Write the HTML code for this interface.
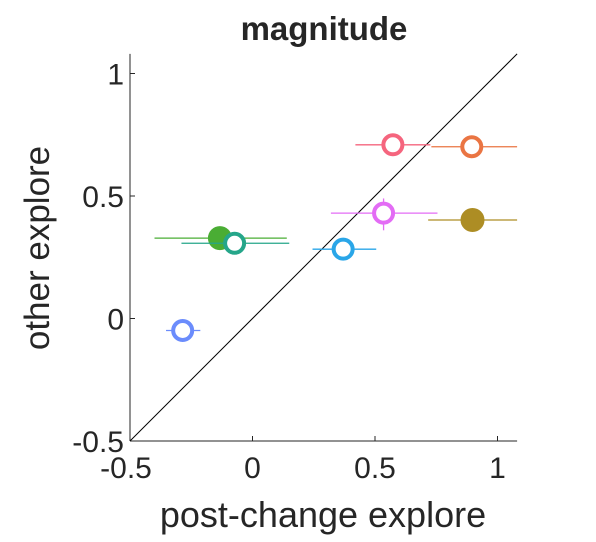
<!DOCTYPE html>
<html><head><meta charset="utf-8"><style>
body{margin:0;background:#fff;}
svg text{font-family:"Liberation Sans",Arial,sans-serif;fill:#262626;}
</style></head><body>
<svg id="chart" width="596" height="537">
<text x="324" y="40" font-size="33" font-weight="bold" text-anchor="middle" fill="#000">magnitude</text>
<text x="323" y="527" font-size="36" text-anchor="middle">post-change explore</text>
<text transform="translate(49,248) rotate(-90)" font-size="35" text-anchor="middle">other explore</text>
<g id="axes"></g>
<g id="marks"></g>
</svg>
<script>
const labels=["pink","orange","magenta","olive","sky","green","teal","periwinkle"];
const xVals=[0.573,0.895,0.535,0.898,0.37,-0.133,-0.073,-0.285];
const yVals=[0.709,0.701,0.43,0.402,0.283,0.328,0.307,-0.049];
const xLo=[0.42,0.73,0.32,0.717,0.245,-0.40,-0.29,-0.353];
const xHi=[0.726,1.08,0.755,1.08,0.505,0.14,0.15,-0.213];
const yLo=[0.68,0.67,0.36,0.36,0.245,0.29,0.27,-0.08];
const yHi=[0.74,0.73,0.49,0.44,0.32,0.37,0.345,-0.02];
const colors=["#f5657e","#ea7543","#e36cf5","#ad8d24","#2aa6e8","#4aad34","#25a68a","#6b8cfc"];
const filled=[false,false,false,true,false,true,false,false];
const xTicks=[-0.5,0,0.5,1];
const yTicks=[-0.5,0,0.5,1];
const xTickLabels=["-0.5","0","0.5","1"];
const yTickLabels=["-0.5","0","0.5","1"];
const lim=[-0.5,1.08];
const ns="http://www.w3.org/2000/svg";
const L=130,B=441,S=245;
function sx(v){return L+(v-lim[0])*S;}
function sy(v){return B-(v-lim[0])*S;}
function mk(t,a,p){const e=document.createElementNS(ns,t);for(const k in a)e.setAttribute(k,a[k]);p.appendChild(e);return e;}
const ax=document.getElementById('axes'),mg=document.getElementById('marks');
let e;
e=mk('line',{x1:L,y1:B,x2:sx(lim[1]),y2:B,stroke:'#262626','stroke-width':1},ax);

e=mk('line',{x1:L,y1:B,x2:L,y2:sy(lim[1]),stroke:'#262626','stroke-width':1},ax);

xTicks.forEach((t,i)=>{
 e=mk('line',{x1:sx(t),y1:B,x2:sx(t),y2:B-5,stroke:'#262626'},ax);
 
 e=mk('text',{x:sx(t)+(i==0?-4:0),y:B+37,'font-size':30,'text-anchor':'middle'},ax);e.textContent=xTickLabels[i];
 
});
yTicks.forEach((t,i)=>{
 e=mk('line',{x1:L,y1:sy(t),x2:L+5,y2:sy(t),stroke:'#262626'},ax);
 
 e=mk('text',{x:L-6,y:sy(t)+11,'font-size':30,'text-anchor':'end'},ax);e.textContent=yTickLabels[i];
 
});
e=mk('line',{x1:sx(lim[0]),y1:sy(lim[0]),x2:sx(lim[1]),y2:sy(lim[1]),stroke:'#000','stroke-width':1},mg);

labels.forEach((lb,i)=>{
 const g=mk('g',{},mg);
 
 e=mk('line',{x1:sx(xLo[i]),y1:sy(yVals[i]),x2:Math.min(sx(xHi[i]),sx(lim[1])),y2:sy(yVals[i]),stroke:colors[i],'stroke-width':1.3},g);
 
 e=mk('line',{x1:sx(xVals[i]),y1:sy(yLo[i]),x2:sx(xVals[i]),y2:sy(yHi[i]),stroke:colors[i],'stroke-width':1.3},g);
 
 e=mk('circle',{cx:sx(xVals[i]),cy:sy(yVals[i]),r:filled[i]?12:9.5,fill:filled[i]?colors[i]:'#fff',stroke:colors[i],'stroke-width':filled[i]?0:4},g);
 
});
</script>
</body></html>
